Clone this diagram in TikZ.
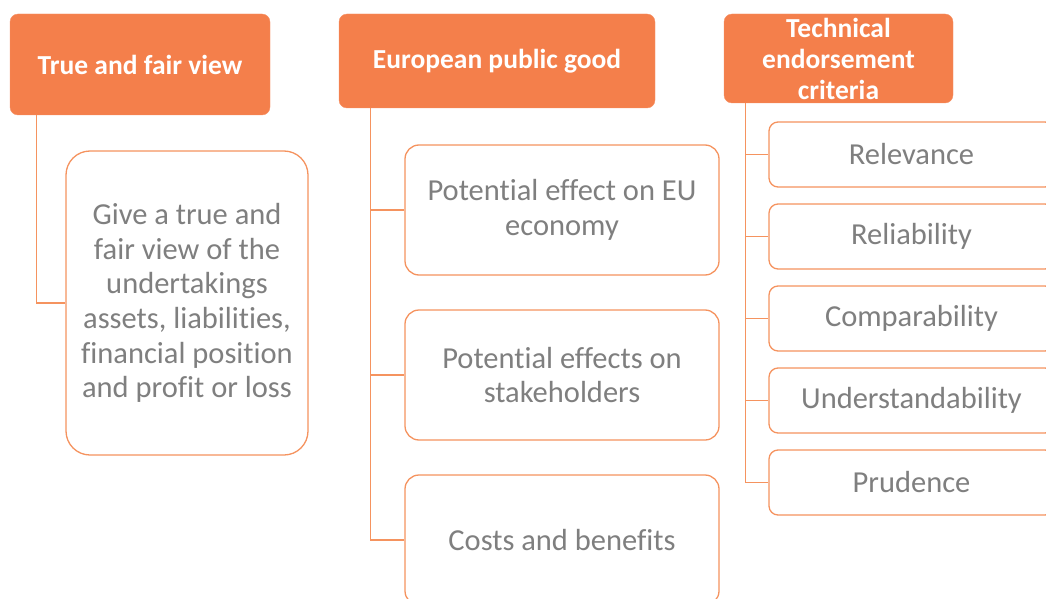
\documentclass[tikz,border=0pt]{standalone}
\usepackage{fontspec}
\setmainfont{Carlito}[Ligatures=NoCommon]
\usetikzlibrary{positioning}
\definecolor{orfill}{HTML}{F47F4B}
\definecolor{orline}{HTML}{F5935F}
\definecolor{txtgray}{HTML}{7F7F7F}
\tikzset{
  head/.style={fill=orfill, draw=orfill!85!white, rounded corners=8pt, text=white,
    font=\fontsize{27.5}{31}\selectfont\bfseries, align=center, inner sep=0pt},
  child/.style={fill=white, draw=orline, line width=1.3pt, text=txtgray,
    font=\fontsize{30.5}{34.6}\selectfont, align=center, inner sep=0pt},
  conn/.style={draw=orline, line width=1.3pt},
}
\begin{document}
\begin{tikzpicture}[x=1pt,y=-1pt]
\useasboundingbox (0,0) rectangle (1046,599);
% column 1
\node[head, minimum width=260pt, minimum height=101pt] (h1) at (140,64.5) {True and fair view};
\node[child, rounded corners=24pt, minimum width=242pt, minimum height=304pt] (c1) at (187,303)
  {Give a true and\\fair view of the\\undertakings\\assets, liabilities,\\financial position\\and profit or loss};
\draw[conn] ([xshift=27pt]h1.south west) |- (c1.west);
% column 2
\node[head, minimum width=316pt, minimum height=94pt] (h2) at (497,61) {European public good};
\node[child, rounded corners=14pt, minimum width=314pt, minimum height=130pt] (m1) at (562,210)
  {Potential effect on EU\\economy};
\node[child, rounded corners=14pt, minimum width=314pt, minimum height=130pt] (m2) at (562,375)
  {Potential effects on\\stakeholders};
\node[child, rounded corners=14pt, minimum width=314pt, minimum height=130pt] (m3) at (562,540)
  {Costs and benefits};
\draw[conn] ([xshift=32pt]h2.south west) |- (m1.west);
\draw[conn] ([xshift=32pt]h2.south west) |- (m2.west);
\draw[conn] ([xshift=32pt]h2.south west) |- (m3.west);
% column 3
\node[head, minimum width=229pt, minimum height=89pt] (h3) at (838.5,58.5) {Technical\\endorsement\\criteria};
\foreach \i/\t [count=\k from 0] in {r1/Relevance, r2/Reliability, r3/Comparability, r4/Understandability, r5/Prudence} {
  \node[child, rounded corners=9pt, minimum width=285pt, minimum height=65pt] (\i) at (911.5,154.5+82*\k) {\t};
  \draw[conn] ([xshift=22pt]h3.south west) |- (\i.west);
}
\end{tikzpicture}
\end{document}
